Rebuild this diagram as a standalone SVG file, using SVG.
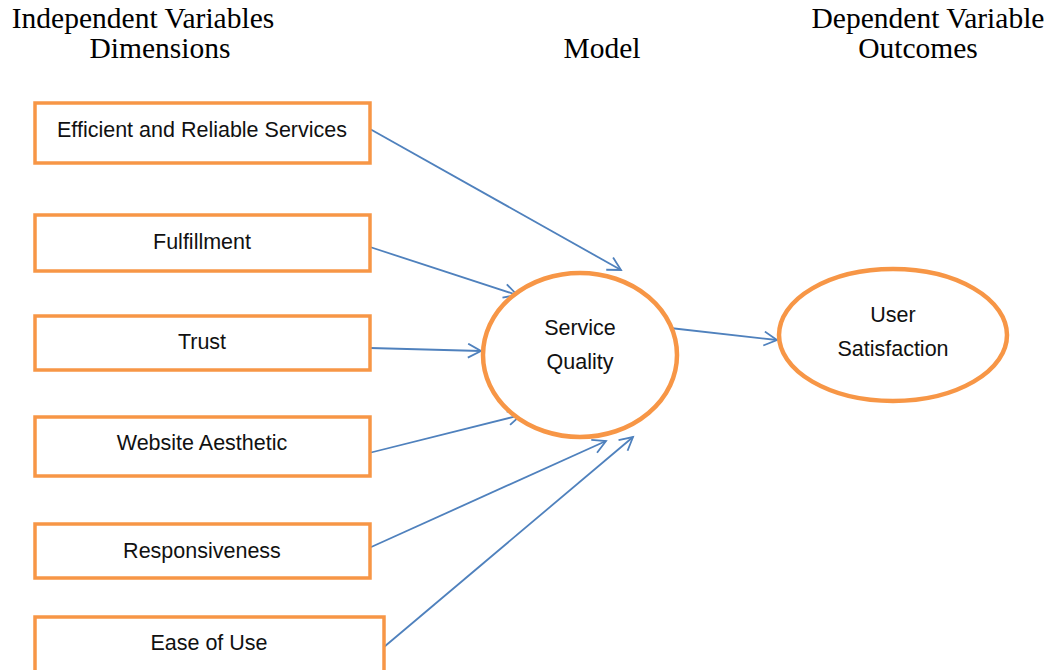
<svg xmlns="http://www.w3.org/2000/svg" width="1051" height="670" viewBox="0 0 1051 670">
  <style>
    .head { font-family: "Liberation Serif", "DejaVu Serif", serif; font-size: 29.5px; fill: #000; text-anchor: middle; }
    .box { fill: #fff; stroke: #F79646; stroke-width: 3.5; }
    .oval { fill: #fff; stroke: #F79646; stroke-width: 4.5; }
    .lbl { font-family: "Liberation Sans", Arial, sans-serif; font-size: 21.5px; fill: #111; text-anchor: middle; }
    .link { fill: none; stroke: #4F81BD; stroke-width: 1.8; marker-end: url(#arrow); }
  </style>
  <defs>
    <marker id="arrow" markerUnits="userSpaceOnUse" markerWidth="20" markerHeight="20" refX="14" refY="8" orient="auto">
      <path d="M1,1 L14,8 L1,15" fill="none" stroke="#4F81BD" stroke-width="1.8"/>
    </marker>
  </defs>
  <rect width="1051" height="670" fill="#fff"/>

  <!-- column headings -->
  <g id="headings">
    <text class="head" x="143" y="28">Independent Variables</text>
    <text class="head" x="160" y="58">Dimensions</text>
    <text class="head" x="602" y="58">Model</text>
    <text class="head" x="928" y="28">Dependent Variable</text>
    <text class="head" x="918" y="58">Outcomes</text>
  </g>

  <!-- connectors -->
  <g id="connectors">
    <line class="link" x1="370" y1="129" x2="621" y2="270"/>
    <line class="link" x1="370" y1="247" x2="517" y2="295"/>
    <line class="link" x1="370" y1="348" x2="481" y2="351"/>
    <line class="link" x1="369" y1="453" x2="521" y2="415"/>
    <line class="link" x1="369" y1="548" x2="606" y2="441"/>
    <line class="link" x1="384" y1="647" x2="633" y2="437"/>
    <line class="link" x1="670" y1="328" x2="777" y2="340"/>
  </g>

  <!-- dimension boxes -->
  <g id="efficient">
    <rect class="box" x="35" y="103" width="335" height="60"/>
    <text class="lbl" x="202" y="137">Efficient and Reliable Services</text>
  </g>
  <g id="fulfillment">
    <rect class="box" x="35" y="215" width="335" height="56"/>
    <text class="lbl" x="202" y="249">Fulfillment</text>
  </g>
  <g id="trust">
    <rect class="box" x="35" y="316" width="335" height="54"/>
    <text class="lbl" x="202" y="349">Trust</text>
  </g>
  <g id="aesthetic">
    <rect class="box" x="35" y="417" width="335" height="59"/>
    <text class="lbl" x="202" y="450">Website Aesthetic</text>
  </g>
  <g id="responsiveness">
    <rect class="box" x="35" y="524" width="335" height="54"/>
    <text class="lbl" x="202" y="558">Responsiveness</text>
  </g>
  <g id="ease">
    <rect class="box" x="35" y="617" width="349" height="60"/>
    <text class="lbl" x="209" y="650">Ease of Use</text>
  </g>

  <!-- model -->
  <g id="service-quality">
    <ellipse class="oval" cx="580" cy="355" rx="97" ry="82"/>
    <text class="lbl" x="580" y="335">Service</text>
    <text class="lbl" x="580" y="369">Quality</text>
  </g>

  <!-- outcome -->
  <g id="user-satisfaction">
    <ellipse class="oval" cx="893" cy="335" rx="114" ry="66"/>
    <text class="lbl" x="893" y="322">User</text>
    <text class="lbl" x="893" y="356">Satisfaction</text>
  </g>
</svg>
